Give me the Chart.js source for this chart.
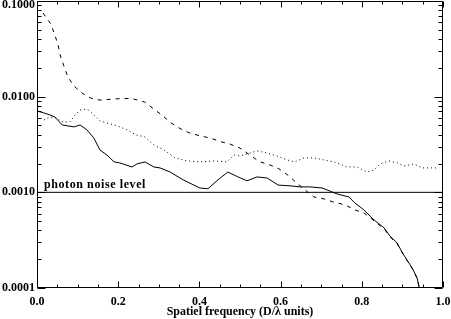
<!DOCTYPE html>
<html>
<head>
<meta charset="utf-8">
<script src="https://cdn.jsdelivr.net/npm/chart.js@4/dist/chart.umd.min.js"></script>
<style>
  html, body { margin: 0; padding: 0; background: #fff; }
  #wrap { width: 451px; height: 319px; }
</style>
</head>
<body>
<div id="wrap"><canvas id="myChart" width="451" height="319"></canvas></div>
<script>
// spatial frequency (D/lambda units) and power for each curve
const solidFreq = [0.000, 0.017, 0.032, 0.044, 0.062, 0.091, 0.106, 0.123, 0.140, 0.155, 0.172, 0.190, 0.204, 0.234, 0.246, 0.266, 0.288, 0.303, 0.328, 0.360, 0.401, 0.421, 0.443, 0.470, 0.495, 0.517, 0.542, 0.567, 0.594, 0.623, 0.648, 0.672, 0.702, 0.722, 0.739, 0.768, 0.783, 0.805, 0.830, 0.855, 0.869, 0.887, 0.899, 0.911, 0.924, 0.936, 0.941, 0.944];
const solidPower = [0.00709, 0.00676, 0.00644, 0.00614, 0.00506, 0.00483, 0.00506, 0.00449, 0.00370, 0.00277, 0.00246, 0.00208, 0.00203, 0.00184, 0.00198, 0.00208, 0.00184, 0.00180, 0.00163, 0.00135, 0.00111, 0.00109, 0.00132, 0.00163, 0.00145, 0.00132, 0.00145, 0.00141, 0.00119, 0.00117, 0.00114, 0.00114, 0.00111, 0.00103, 0.000962, 0.000895, 0.000775, 0.000655, 0.000515, 0.000425, 0.000350, 0.000296, 0.000238, 0.000197, 0.000162, 0.000128, 0.000103, 0.000092];

const dashedFreq = [0.015, 0.034, 0.044, 0.052, 0.057, 0.067, 0.076, 0.091, 0.111, 0.131, 0.155, 0.197, 0.232, 0.265, 0.288, 0.308, 0.328, 0.350, 0.374, 0.401, 0.426, 0.451, 0.475, 0.500, 0.547, 0.574, 0.596, 0.621, 0.640, 0.660, 0.682, 0.707, 0.729, 0.759, 0.783, 0.805, 0.830, 0.855, 0.869, 0.887, 0.899, 0.911, 0.924, 0.936, 0.944];
const dashedPower = [0.0749, 0.0575, 0.0441, 0.0347, 0.0273, 0.0204, 0.0161, 0.0129, 0.0109, 0.0097, 0.0092, 0.0095, 0.0096, 0.0088, 0.0074, 0.0064, 0.0054, 0.0047, 0.0042, 0.0039, 0.0037, 0.0034, 0.0032, 0.0029, 0.0021, 0.00193, 0.00176, 0.00148, 0.00125, 0.00106, 0.000895, 0.000853, 0.000794, 0.000739, 0.000655, 0.000609, 0.000505, 0.000415, 0.000345, 0.000290, 0.000235, 0.000195, 0.000160, 0.000127, 0.000092];

const dottedFreq = [0.017, 0.032, 0.049, 0.062, 0.081, 0.094, 0.106, 0.123, 0.135, 0.155, 0.172, 0.190, 0.204, 0.222, 0.244, 0.266, 0.288, 0.313, 0.340, 0.369, 0.401, 0.436, 0.468, 0.485, 0.500, 0.525, 0.542, 0.567, 0.591, 0.616, 0.635, 0.658, 0.682, 0.707, 0.732, 0.764, 0.788, 0.813, 0.830, 0.845, 0.867, 0.887, 0.904, 0.929, 0.948, 0.985];
const dottedPower = [0.00571, 0.00614, 0.00599, 0.00544, 0.00544, 0.00644, 0.00726, 0.00744, 0.00676, 0.00557, 0.00531, 0.00506, 0.00483, 0.00449, 0.00398, 0.00379, 0.00313, 0.00277, 0.00229, 0.00213, 0.00208, 0.00213, 0.00208, 0.00246, 0.00240, 0.00258, 0.00271, 0.00258, 0.00240, 0.00218, 0.00208, 0.00229, 0.00229, 0.00218, 0.00208, 0.00184, 0.00184, 0.00163, 0.00171, 0.00198, 0.00213, 0.00203, 0.00189, 0.00198, 0.00180, 0.00180];

const noiseLevel = 0.001;
const noiseLabel = 'photon noise level';
const xTicks = [0, 0.2, 0.4, 0.6, 0.8, 1.0];
const yTicks = [0.0001, 0.001, 0.01, 0.1];

const font = { family: '"Liberation Serif", "DejaVu Serif", serif', size: 12, weight: 'bold' };

function zip(xs, ys) {
    return xs.map((x, i) => ({ x: x, y: ys[i] }));
}

// frame, inward tick marks and the noise label
const frameTicks = {
    id: 'frameTicks',
    afterDatasetsDraw(chart) {
        const { ctx, chartArea: a, scales: { x, y } } = chart;
        const L = Math.round(a.left) + 0.5, R = Math.round(a.right) - 0.5;
        const T = Math.round(a.top) + 0.5, B = Math.round(a.bottom) - 0.5;
        ctx.save();
        ctx.strokeStyle = '#000';
        ctx.lineWidth = 1;
        ctx.beginPath();
        ctx.rect(L, T, R - L, B - T);
        for (let i = 0; i <= 20; i++) {
            const px = Math.round(x.getPixelForValue(i * 0.05)) + 0.5;
            const len = i % 4 === 0 ? 6 : 3;
            ctx.moveTo(px, B); ctx.lineTo(px, B - len);
            ctx.moveTo(px, T); ctx.lineTo(px, T + len);
        }
        const decades = [0.0001, 0.001, 0.01];
        decades.forEach(d => {
            for (let m = 1; m <= 9; m++) {
                const py = Math.round(y.getPixelForValue(m * d)) + 0.5;
                const len = m === 1 ? 8 : 4;
                ctx.moveTo(L, py); ctx.lineTo(L + len, py);
                ctx.moveTo(R, py); ctx.lineTo(R - len, py);
            }
        });
        const pTop = Math.round(y.getPixelForValue(0.1)) + 0.5;
        ctx.moveTo(L, pTop); ctx.lineTo(L + 8, pTop);
        ctx.moveTo(R, pTop); ctx.lineTo(R - 8, pTop);
        ctx.stroke();

        ctx.fillStyle = '#000';
        ctx.font = 'bold 12px "Liberation Serif", serif';
        ctx.letterSpacing = '0.6px';
        ctx.textBaseline = 'alphabetic';
        ctx.fillText(noiseLabel, x.getPixelForValue(0.017), y.getPixelForValue(noiseLevel) - 4);
        ctx.restore();
    }
};

const lineStyle = {
    borderColor: '#000',
    borderWidth: 1,
    pointRadius: 0,
    tension: 0,
    fill: false
};

new Chart(document.getElementById('myChart'), {
    type: 'line',
    data: {
        datasets: [
            { ...lineStyle, data: zip(solidFreq, solidPower) },
            { ...lineStyle, data: zip(dashedFreq, dashedPower), borderDash: [4, 5] },
            { ...lineStyle, data: zip(dottedFreq, dottedPower), borderDash: [1, 3] },
            { ...lineStyle, data: [{ x: 0, y: noiseLevel }, { x: 1, y: noiseLevel }] }
        ]
    },
    options: {
        responsive: false,
        devicePixelRatio: 1,
        animation: false,
        layout: { padding: { top: 1, right: 8, left: 0, bottom: 0 } },
        plugins: { legend: { display: false }, tooltip: { enabled: false } },
        scales: {
            x: {
                type: 'linear',
                min: 0,
                max: 1,
                grid: { display: false, drawTicks: false },
                border: { display: false },
                afterBuildTicks: (scale) => { scale.ticks = xTicks.map(v => ({ value: v })); },
                afterFit: (scale) => { scale.height = 31; scale.paddingLeft = 0; scale.paddingRight = 0; },
                ticks: {
                    color: '#000',
                    font: font,
                    padding: 7,
                    maxRotation: 0,
                    callback: (v) => Number(v).toFixed(1)
                },
                title: {
                    display: true,
                    text: 'Spatiel frequency (D/λ units)',
                    color: '#000',
                    font: font,
                    padding: { top: 0, bottom: 0 }
                }
            },
            y: {
                type: 'logarithmic',
                min: 0.0001,
                max: 0.1,
                grid: { display: false, drawTicks: false },
                border: { display: false },
                afterBuildTicks: (scale) => { scale.ticks = yTicks.map(v => ({ value: v })); },
                afterFit: (scale) => { scale.width = 37; scale.paddingTop = 0; scale.paddingBottom = 0; },
                ticks: {
                    color: '#000',
                    font: { ...font, lineHeight: '7px' },
                    padding: 2,
                    callback: (v) => v === 0.1 ? ['', v.toFixed(4)] : Number(v).toFixed(4)
                }
            }
        }
    },
    plugins: [frameTicks]
});
</script>
</body>
</html>
